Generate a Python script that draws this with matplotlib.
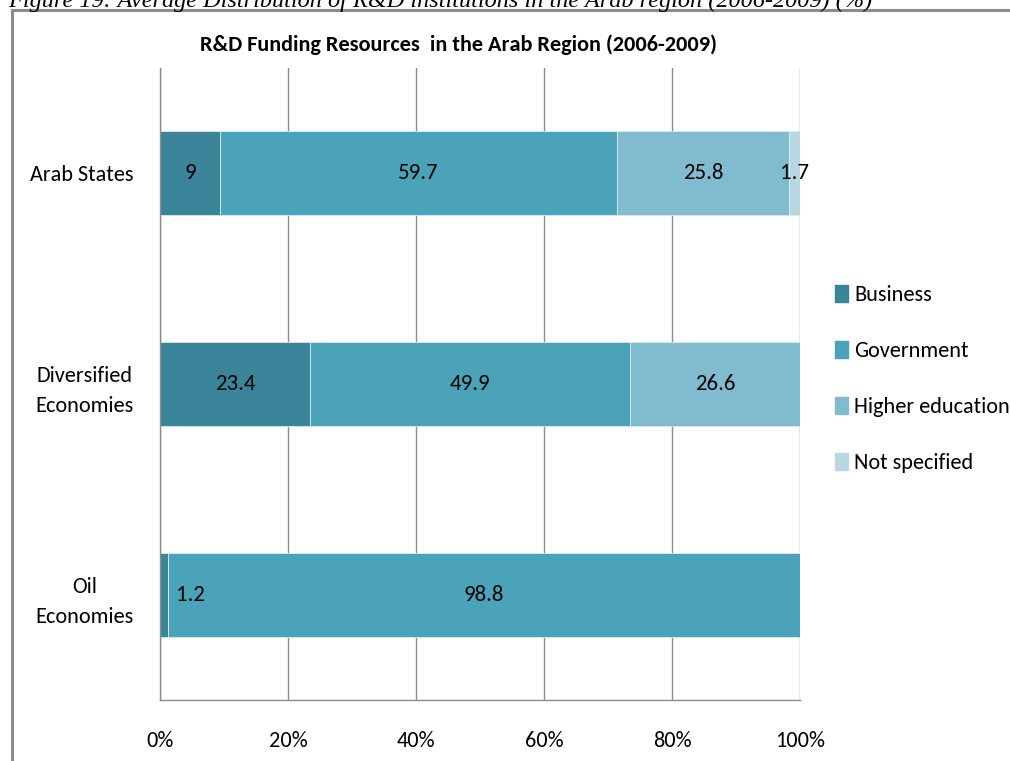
import matplotlib
matplotlib.use("Agg")
import matplotlib.pyplot as plt
import numpy as np
from matplotlib.lines import Line2D

# data (raw values, shown as labels)
regions = ["Arab States", "Diversified\nEconomies", "Oil\nEconomies"]
sources = ["Business", "Government", "Higher education", "Not specified"]
business = [9, 23.4, 1.2]
government = [59.7, 49.9, 98.8]
higher_ed = [25.8, 26.6, 0]
not_spec = [1.7, 0, 0]
colors = ["#3a8599", "#4ba3ba", "#80bbcf", "#b7d7e2"]

plt.rcParams['font.family'] = ['Carlito', 'DejaVu Sans']

fig = plt.figure(figsize=(10.10, 7.61), dpi=100)
ax = fig.add_axes([160/1010, 1-700/761, 640/1010, 632/761])

series = np.array([business, government, higher_ed, not_spec], dtype=float)
totals = series.sum(axis=0)
shares = series / totals * 100
ypos = np.array([0.5, 1.5, 2.5])

left = np.zeros(len(regions))
for k in range(len(sources)):
    ax.barh(ypos, shares[k], left=left, height=0.40, color=colors[k],
            edgecolor="#d8ecf2", linewidth=0.6, label=sources[k], zorder=2)
    for i in range(len(regions)):
        if series[k][i] > 0:
            xc = left[i] + shares[k][i] / 2
            xc = max(xc, 4.7)
            txt = "%g" % series[k][i]
            ax.text(xc, ypos[i], txt, ha="center", va="center", fontsize=16.5,
                    color="black", zorder=3)
    left = left + shares[k]

ax.set_xlim(0, 100)
ax.set_ylim(3, 0)
ax.set_xticks([0, 20, 40, 60, 80, 100])
ax.set_xticklabels(["0%", "20%", "40%", "60%", "80%", "100%"], fontsize=16)
ax.set_yticks(ypos)
ax.set_yticklabels(regions, fontsize=16, multialignment="center", linespacing=1.65)
ax.tick_params(axis="x", length=0, pad=22)
ax.tick_params(axis="y", length=0, pad=19)
ax.xaxis.grid(True, color="#8c8c8c", linewidth=1.0, zorder=0)
ax.set_axisbelow(True)
for s in ["top", "right"]:
    ax.spines[s].set_visible(False)
for s in ["left", "bottom"]:
    ax.spines[s].set_color("#8c8c8c")
    ax.spines[s].set_linewidth(1.0)

fig.text(458/1010, 1-45/761, "R&D Funding Resources  in the Arab Region (2006-2009)",
         ha="center", va="center", fontsize=16, fontweight="bold")

handles = [plt.Rectangle((0, 0), 1, 1, color=c) for c in colors]
fig.legend(handles, sources, loc="center left", bbox_to_anchor=(835/1010, 1-379/761),
           frameon=False, fontsize=16, handlelength=0.6, handleheight=0.8,
           handletextpad=0.25, labelspacing=1.62, borderaxespad=0, borderpad=0)

# caption of the document, cut off at the top
fig.text(8/1010, 1-7/761,
         "Figure 19: Average Distribution of R&D institutions in the Arab region (2006-2009) (%)",
         ha="left", va="baseline", fontsize=17.5, style="italic",
         family=["Liberation Serif", "DejaVu Serif"])

# outer frame
fig.add_artist(Line2D([11.5/1010, 11.5/1010], [0, 1-10/761], transform=fig.transFigure,
                      color="#8c8c8c", linewidth=2.2))
fig.add_artist(Line2D([11.5/1010, 1], [1-10/761, 1-10/761], transform=fig.transFigure,
                      color="#8c8c8c", linewidth=2.2))

fig.savefig("out.png", dpi=100)
